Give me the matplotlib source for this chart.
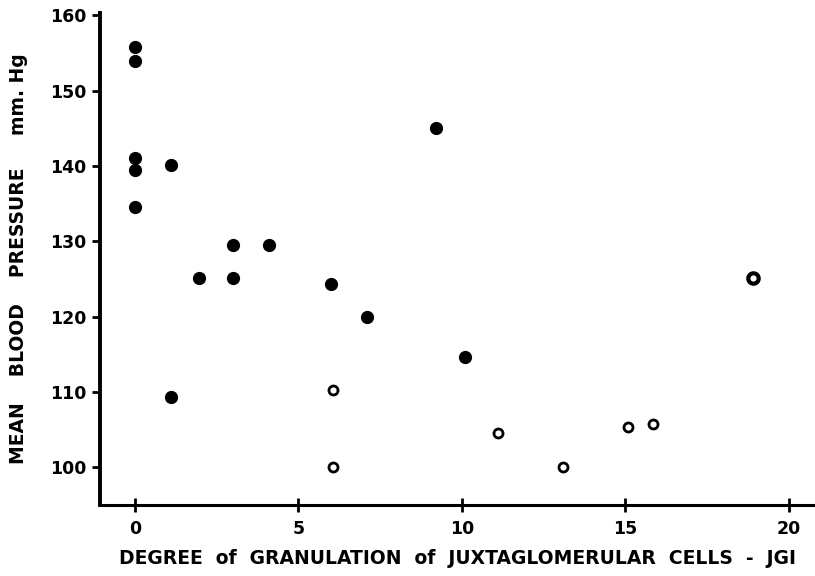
import matplotlib.pyplot as plt

# filled circles
jgi_filled = [0, 0, 0, 0, 0, 1.1, 1.1, 1.95, 3.0, 3.0, 4.1, 6.0, 7.1, 9.2, 10.1]
bp_filled = [155.8, 154.0, 141.1, 139.5, 134.5, 140.1, 109.3, 125.1, 129.5, 125.1,
             129.5, 124.4, 119.9, 145.0, 114.7]

# open circles
jgi_open = [6.05, 6.05, 11.1, 13.1, 15.1, 15.85]
bp_open = [110.3, 100.1, 104.6, 100.1, 105.4, 105.7]

# the heavier ring at the far right
jgi_ring = [18.9]
bp_ring = [125.1]

x_ticks = [0, 5, 10, 15, 20]
y_ticks = [100, 110, 120, 130, 140, 150, 160]

fig = plt.figure(figsize=(8.15, 5.76), dpi=100)
ax = fig.add_axes([0.1227, 0.1233, 0.877, 0.854])

ax.plot(jgi_filled, bp_filled, "o", color="black", markersize=8.5, linestyle="none")
ax.plot(jgi_open, bp_open, "o", markerfacecolor="white", markeredgecolor="black",
        markersize=6.5, markeredgewidth=2.0, linestyle="none")
ax.plot(jgi_ring, bp_ring, "o", markerfacecolor="white", markeredgecolor="black",
        markersize=7.5, markeredgewidth=3.0, linestyle="none")

ax.set_xlim(-1.07, 20.8)
ax.set_ylim(95, 160.3)

ax.spines["top"].set_visible(False)
ax.spines["right"].set_visible(False)
ax.spines["left"].set_linewidth(2.8)
ax.spines["bottom"].set_linewidth(2.2)

ax.set_xticks(x_ticks)
ax.set_yticks(y_ticks)
ax.tick_params(axis="x", direction="inout", length=10, width=2, pad=6)
ax.tick_params(axis="y", direction="out", length=6, width=2, pad=4)
for lbl in ax.get_xticklabels() + ax.get_yticklabels():
    lbl.set_fontweight("bold")
    lbl.set_fontsize(12.5)

ax.set_xlabel("DEGREE  of  GRANULATION  of  JUXTAGLOMERULAR  CELLS  -  JGI",
              fontsize=13.5, fontweight="bold", labelpad=8)
ax.set_ylabel("MEAN    BLOOD    PRESSURE     mm. Hg", fontsize=13.5,
              fontweight="bold", labelpad=16)

fig.savefig("out.png", dpi=100)
